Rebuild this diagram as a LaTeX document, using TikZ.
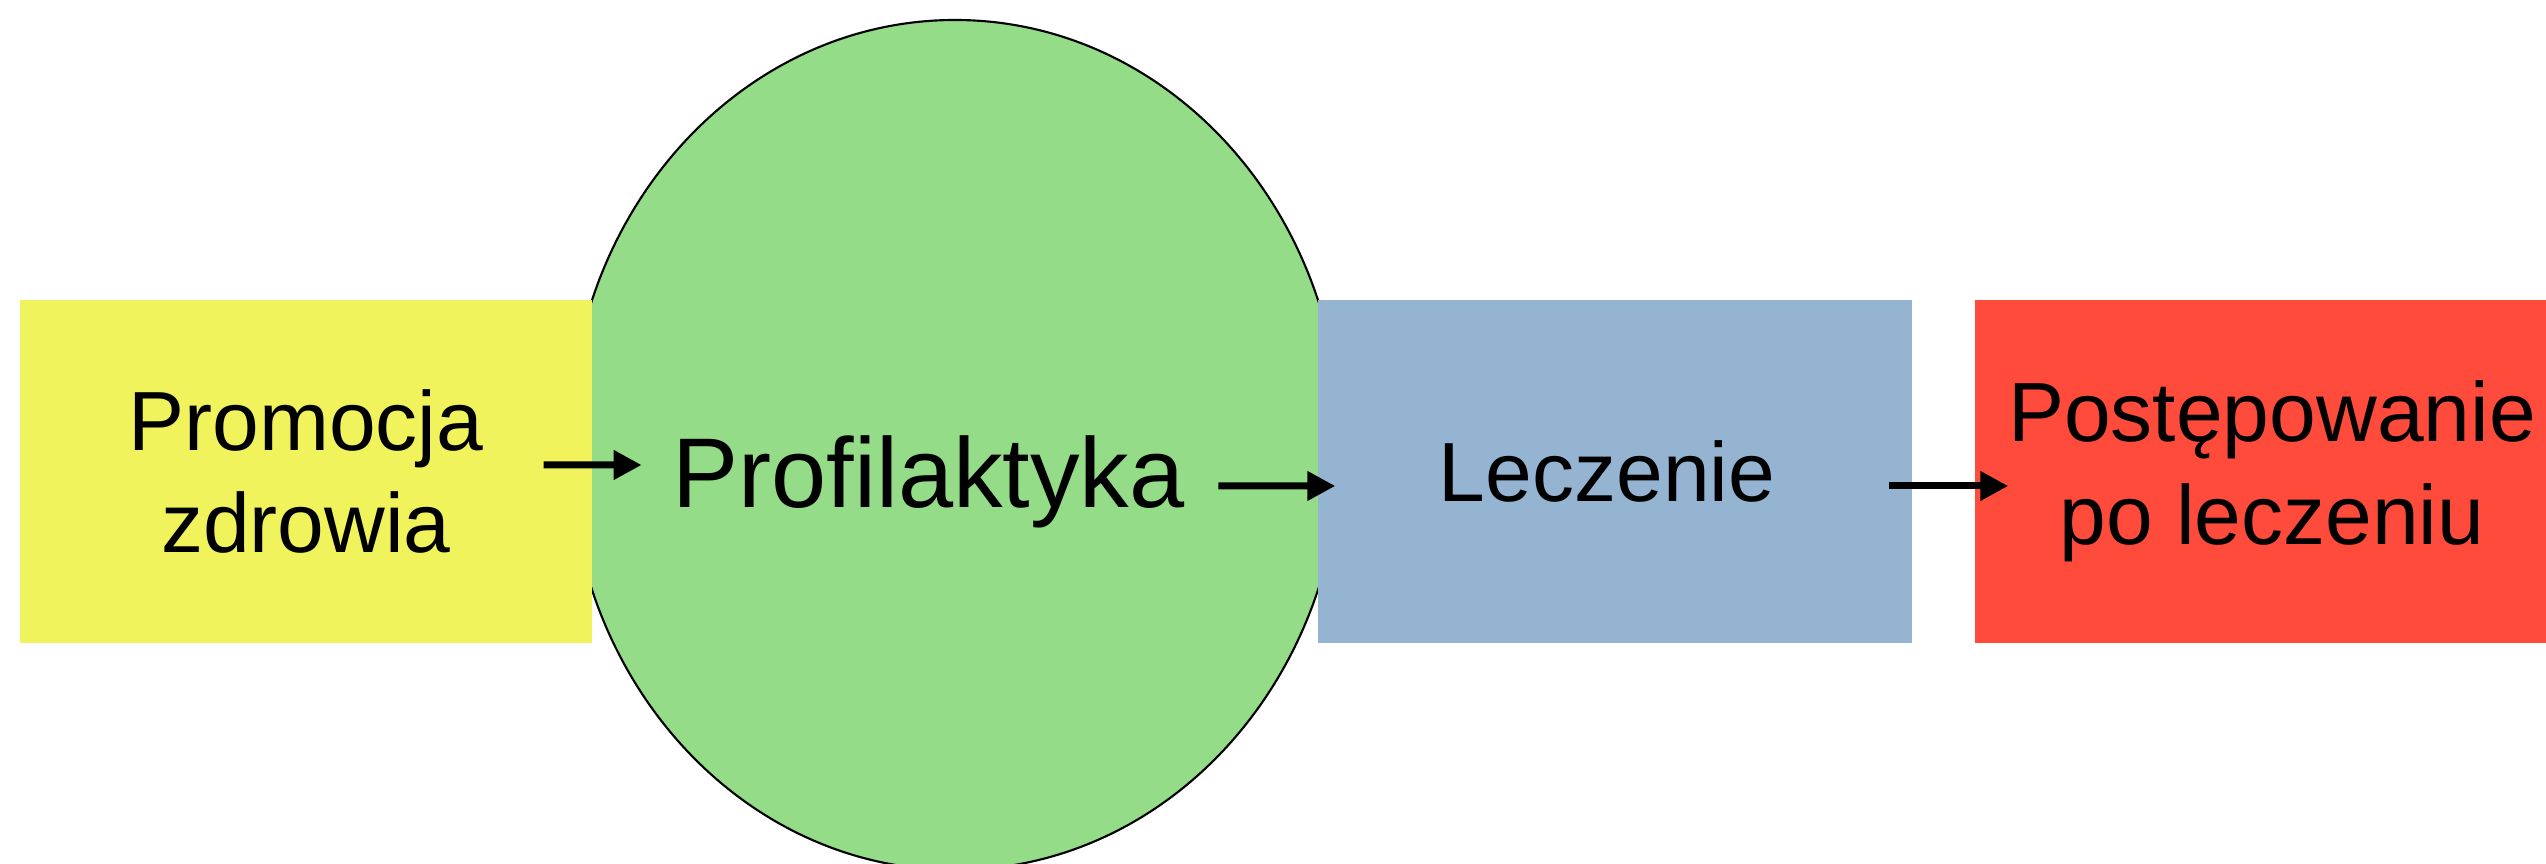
\documentclass[tikz,border=0pt]{standalone}
\usepackage{fontspec}
\setmainfont{Liberation Sans}
\usepackage{tikz}
\usetikzlibrary{arrows.meta}
\usetikzlibrary{shapes.geometric}
\definecolor{promoyellow}{RGB}{240,243,92}
\definecolor{profgreen}{RGB}{148,220,135}
\definecolor{leczblue}{RGB}{148,180,210}
\definecolor{postred}{RGB}{255,75,60}
\tikzset{box/.style={rectangle,inner sep=0pt,minimum width=5.94cm,minimum height=3.43cm,align=center,font=\fontsize{23.9}{29.3}\selectfont},
  flow/.style={->,line width=2pt,line cap=butt,color=black}}
\begin{document}
\begin{tikzpicture}[line cap=round,line join=round,>={Triangle[length=0.28cm,width=0.28cm]},x=1cm,y=1cm]
\path[use as bounding box,clip] (0,0) rectangle (25.46,8.64);
%\draw[help lines] (0,0) grid (25,8);
\node[ellipse,draw=black,line width=0.6pt,fill=profgreen,minimum width=7.72cm,minimum height=8.5cm,inner sep=0pt] (oval) at (9.55,4.19) {};
\node[box,fill=promoyellow,minimum width=5.72cm] (promo) at (3.06,3.925) {Promocja\\zdrowia};
\node[box,fill=leczblue] (lecz) at (16.15,3.925) {Leczenie\hspace{0.16cm}};
\node[box,fill=postred] (post) at (22.72,3.925) {Postępowanie\\po leczeniu};
\node[anchor=base,inner sep=0pt,font=\fontsize{28.2}{33}\selectfont] (prof) at (9.285,3.56) {Profilaktyka};
\draw[flow] ([xshift=-0.49cm,yshift=0.065cm]promo.east) -- ([xshift=-0.3cm,yshift=0.43cm]prof.base west);
\draw[flow] ([xshift=0.33cm,yshift=0.22cm]prof.base east) -- ([xshift=0.18cm,yshift=-0.145cm]lecz.west);
\draw[flow] ([xshift=-0.24cm,yshift=-0.145cm]lecz.east) -- ([xshift=0.34cm,yshift=-0.145cm]post.west);
\end{tikzpicture}
\end{document}
